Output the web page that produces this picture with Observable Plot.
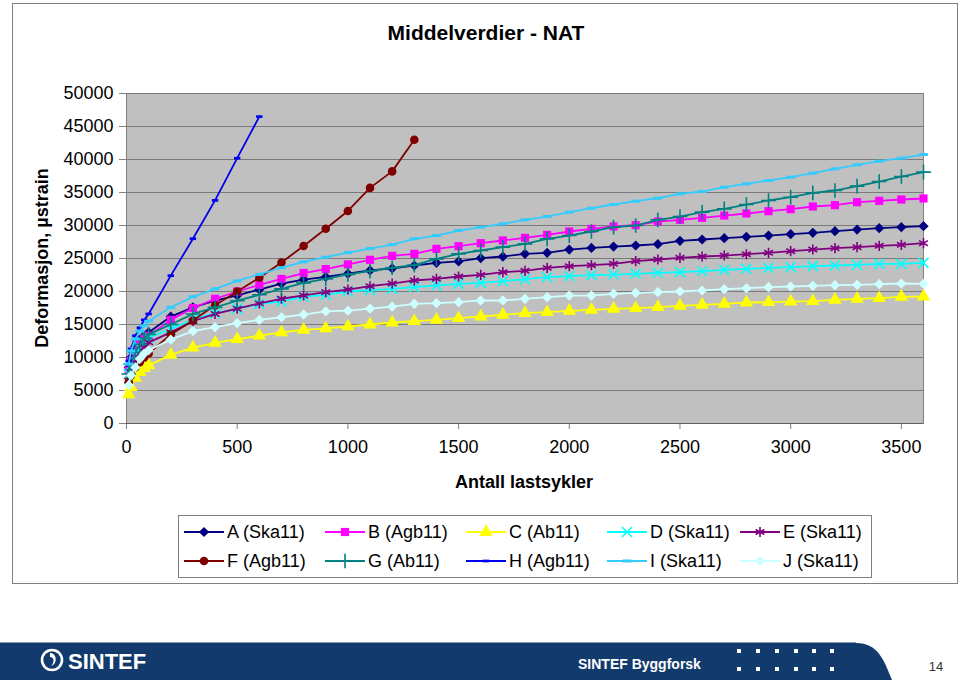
<!DOCTYPE html>
<html><head><meta charset="utf-8">
<script src="https://cdn.jsdelivr.net/npm/d3@7"></script>
<script src="https://cdn.jsdelivr.net/npm/@observablehq/plot@0.6"></script>
<style>
body{margin:0;background:#fff;font-family:"Liberation Sans",Arial,sans-serif;}
#page{position:relative;width:960px;height:680px;overflow:hidden;background:#fff;}
#border{position:absolute;left:12px;top:3px;width:946px;height:581px;border:1px solid #808080;box-sizing:border-box;z-index:3;pointer-events:none;}
#chart{position:absolute;left:0;top:0;z-index:1;}
.txt{position:absolute;white-space:nowrap;color:#000;z-index:2;}
#title{left:486px;top:33px;transform:translate(-50%,-50%);font-weight:bold;font-size:21px;}
#ylab{left:42px;top:258px;transform:translate(-50%,-50%) rotate(-90deg);font-weight:bold;font-size:18px;}
#xlab{left:524px;top:482px;transform:translate(-50%,-50%);font-weight:bold;font-size:18px;}
#legend{position:absolute;left:178px;top:515px;width:694px;height:63px;border:1px solid #808080;box-sizing:border-box;z-index:2;background:#fff;}
.lg{position:absolute;font-size:18px;white-space:nowrap;transform:translateY(-50%);}
#footer{position:absolute;left:0;top:620px;}
</style></head>
<body><div id="page">
<div id="border"></div>
<div id="title" class="txt">Middelverdier - NAT</div>
<div id="ylab" class="txt">Deformasjon, µstrain</div>
<div id="xlab" class="txt">Antall lastsykler</div>
<div id="chart"></div>
<div id="legend"></div>
<svg id="footer" width="960" height="60"></svg>
</div>
<script>
// ---------------- data ----------------
const cycles = [10,20,40,60,80,100,200,300,400,500,600,700,800,900,1000,1100,1200,1300,1400,1500,1600,1700,1800,1900,2000,2100,2200,2300,2400,2500,2600,2700,2800,2900,3000,3100,3200,3300,3400,3500,3600];
const seriesNames = ["A (Ska11)","B (Agb11)","C (Ab11)","D (Ska11)","E (Ska11)","F (Agb11)","G (Ab11)","H (Agb11)","I (Ska11)","J (Ska11)"];
const valuesA = [8500,10000,11700,12600,13300,13800,16200,17600,18600,19400,20300,21200,21800,22200,22700,23200,23500,23940,24340,24550,25050,25300,25710,25860,26360,26600,26800,26970,27170,27680,27880,28080,28280,28480,28690,28890,29140,29390,29600,29750,29900];
const valuesB = [8000,9500,11000,12000,12800,13300,15700,17500,18900,20000,21000,21900,22800,23400,24100,24800,25400,25700,26460,26870,27320,27730,28130,28580,29090,29490,29850,30050,30600,30860,31160,31510,31820,32170,32470,32880,33080,33530,33740,33940,34090];
const valuesC = [4400,5500,6900,7800,8400,8800,10400,11500,12200,12800,13300,13800,14200,14400,14700,15000,15300,15500,15710,15960,16210,16460,16720,16870,17070,17220,17370,17470,17630,17830,17980,18130,18330,18380,18480,18530,18740,18890,18990,19190,19240];
const valuesD = [7500,8800,10300,11500,12300,13000,14300,15800,16700,17400,18100,18500,19200,19500,20000,20200,20400,20660,20910,21160,21310,21560,21870,22170,22320,22470,22570,22680,22830,22930,23080,23280,23430,23580,23690,23840,23940,24040,24190,24190,24340];
const valuesE = [6500,7800,9300,10500,11500,12300,13800,15500,16600,17400,18200,18900,19400,19900,20300,20800,21200,21670,21920,22270,22520,22930,23130,23580,23840,23990,24190,24590,24850,25100,25300,25450,25650,25860,26110,26360,26560,26720,26920,27070,27320];
const valuesF = [6300,7300,8500,9300,10000,10600,13500,15600,17900,20000,22100,24400,26900,29500,32200,35700,38200,43000];
const valuesG = [7500,9000,10800,12000,12900,13500,15000,16600,17600,18600,19500,20400,21300,21900,22600,23100,23600,24000,24950,25700,26210,26720,27220,27980,28480,29090,29740,30000,30860,31360,32020,32520,33180,33790,34290,34950,35300,35960,36660,37420,38080];
const valuesH = [9500,11300,13300,14500,15700,16600,22400,28000,33800,40200,46500];
const valuesI = [9000,11000,12800,14000,14800,15500,17600,19200,20400,21600,22600,23600,24500,25200,25900,26500,27100,27980,28480,29240,29740,30250,30860,31360,32020,32620,33180,33680,34140,34800,35150,35800,36310,36820,37320,37930,38580,39190,39740,40200,40750];
const valuesJ = [5800,7300,8500,9800,10600,11100,12700,14000,14600,15200,15700,16100,16500,17000,17100,17400,17700,18130,18230,18380,18640,18640,18890,19140,19390,19390,19650,19800,19900,20000,20150,20350,20500,20660,20760,20860,20960,21010,21110,21210,21160];
const xTicks = [0,500,1000,1500,2000,2500,3000,3500];
const yTicks = [0,5000,10000,15000,20000,25000,30000,35000,40000,45000,50000];

// ---------------- styles ----------------
const shortDash = {draw(ctx, size){const s=Math.sqrt(size); ctx.rect(-s*0.4,-s*0.17,s*0.8,s*0.34);}};
const longDash = {draw(ctx, size){const s=Math.sqrt(size); ctx.rect(-s*0.55,-s*0.19,s*1.1,s*0.38);}};
const styles = [
  {color:"#000080", symbol:"diamond2", filled:true, r:4.6},
  {color:"#FF00FF", symbol:"square", filled:true, r:4.6},
  {color:"#FFFF00", symbol:"triangle", filled:true, r:5},
  {color:"#00FFFF", symbol:"times", filled:false, r:4.6},
  {color:"#800080", symbol:"asterisk", filled:false, r:4.8},
  {color:"#800000", symbol:"circle", filled:true, r:4.3},
  {color:"#008080", symbol:"plus", filled:false, r:4.8},
  {color:"#0000EE", symbol:shortDash, filled:true, r:4.5},
  {color:"#33CCFF", symbol:longDash, filled:true, r:4.5},
  {color:"#CCFFFF", symbol:"diamond2", filled:true, r:4.6}
];
const allValues = [valuesA,valuesB,valuesC,valuesD,valuesE,valuesF,valuesG,valuesH,valuesI,valuesJ];
const tables = allValues.map((vals, s) => vals.map((v, i) => ({series: seriesNames[s], cycle: cycles[i], value: v})));

const seriesMarks = [];
tables.forEach((data, s) => {
  const st = styles[s];
  seriesMarks.push(Plot.line(data, {x:"cycle", y:"value", stroke: st.color, strokeWidth: 1.8}));
  seriesMarks.push(Plot.dot(data, st.filled
    ? {x:"cycle", y:"value", symbol: st.symbol, r: st.r, fill: st.color, stroke: "none"}
    : {x:"cycle", y:"value", symbol: st.symbol, r: st.r, fill: "none", stroke: st.color, strokeWidth: 1.6}));
});

const chart = Plot.plot({
  width: 960, height: 500,
  marginLeft: 126, marginRight: 37, marginTop: 93, marginBottom: 77,
  style: {fontFamily: "'Liberation Sans', Arial, sans-serif", fontSize: "18px", background: "transparent", color: "#000", overflow: "visible"},
  x: {domain: [0, 3600], label: null},
  y: {domain: [0, 50000], label: null},
  marks: [
    Plot.frame({fill: "#C0C0C0", stroke: "#808080"}),
    Plot.gridY(yTicks, {stroke: "#7a7a7a", strokeOpacity: 1, strokeWidth: 1}),
    Plot.axisY(yTicks, {tickSize: 7, tickPadding: 6, tickFormat: d => String(d), fontSize: 18, stroke: "#808080"}),
    Plot.axisX(xTicks, {tickSize: 6, tickPadding: 11, tickFormat: d => String(d), fontSize: 18, stroke: "#808080"}),
    Plot.ruleX([0], {stroke: "#808080"}),
    Plot.ruleY([0], {stroke: "#606060"}),
    ...seriesMarks
  ]
});
document.getElementById("chart").appendChild(chart);

// ---------------- legend ----------------
const legend = d3.select("#legend");
const textX = [48, 189, 330, 471, 604];
const rowY = [16, 45];
const symbolMap = {diamond2: d3.symbolDiamond2, square: d3.symbolSquare, triangle: d3.symbolTriangle, times: d3.symbolTimes, asterisk: d3.symbolAsterisk, circle: d3.symbolCircle, plus: d3.symbolPlus};
seriesNames.forEach((name, s) => {
  const col = s % 5, row = Math.floor(s / 5);
  const st = styles[s];
  const svg = legend.append("svg").attr("width", 44).attr("height", 16)
    .style("position","absolute").style("left", (textX[col]-45)+"px").style("top", (rowY[row]-8)+"px");
  svg.append("line").attr("x1",2).attr("x2",42).attr("y1",8).attr("y2",8).attr("stroke",st.color).attr("stroke-width",1.8);
  const type = typeof st.symbol === "string" ? symbolMap[st.symbol] : st.symbol;
  const path = d3.symbol(type, Math.PI * st.r * st.r)();
  const p = svg.append("path").attr("d", path).attr("transform","translate(22,8)");
  if (st.filled) p.attr("fill", st.color); else p.attr("fill","none").attr("stroke", st.color).attr("stroke-width",1.6);
  legend.append("div").attr("class","lg").style("left", textX[col]+"px").style("top", rowY[row]+"px").text(name);
});

// ---------------- footer ----------------
const f = d3.select("#footer");
f.append("path").attr("d","M0,23 H856 C878,23 884,40 892,60 H0 Z").attr("fill","#133A6C");
f.append("line").attr("x1",0).attr("x2",856).attr("y1",22.5).attr("y2",22.5).attr("stroke","#8a9ab5").attr("stroke-width",1);
f.append("circle").attr("cx",52).attr("cy",40).attr("r",10).attr("fill","none").attr("stroke","#fff").attr("stroke-width",2.6);
f.append("path").attr("d","M50,33 C57,33 58,44 51,46 C55,42 54,37 50,37 Z").attr("fill","#fff");
f.append("text").attr("x",68).attr("y",48.5).attr("fill","#fff").attr("font-weight","bold").attr("font-size",22).attr("font-family","'Liberation Sans',Arial,sans-serif").text("SINTEF");
f.append("text").attr("x",578).attr("y",49).attr("fill","#fff").attr("font-weight","bold").attr("font-size",14).attr("font-family","'Liberation Sans',Arial,sans-serif").text("SINTEF Byggforsk");
[739,758,777,796,814,832].forEach(x => [31,49].forEach(y => f.append("rect").attr("x",x-2).attr("y",y-2).attr("width",4).attr("height",4).attr("fill","#fff")));
f.append("text").attr("x",936).attr("y",51).attr("text-anchor","middle").attr("fill","#333").attr("font-size",13).attr("font-family","'Liberation Sans',Arial,sans-serif").text("14");
</script>
</body></html>
